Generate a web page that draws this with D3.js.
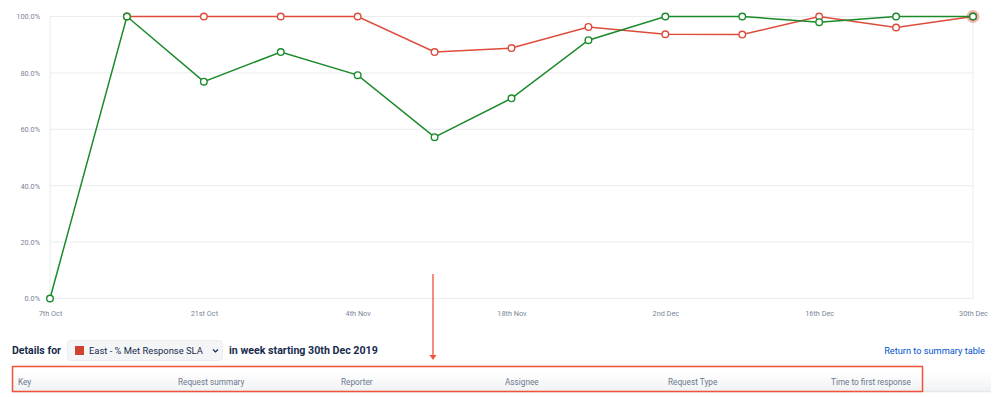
<!DOCTYPE html>
<html><head><meta charset="utf-8">
<script src="https://cdn.jsdelivr.net/npm/d3@7"></script>
<style>
html,body{margin:0;padding:0;background:#fff;}
svg{display:block;font-family:Roboto,"Noto Sans",sans-serif;}
</style></head>
<body>
<svg id="c" width="999" height="397"></svg>
<script>
const weeks = ["7th Oct","14th Oct","21st Oct","28th Oct","4th Nov","11th Nov","18th Nov","25th Nov","2nd Dec","9th Dec","16th Dec","23rd Dec","30th Dec"];
const tickLabels = ["7th Oct","21st Oct","4th Nov","18th Nov","2nd Dec","16th Dec","30th Dec"];
const greenValues = [0,100,76.9,87.4,79.2,57.2,71.0,91.6,100,100,98.0,100,100];
const redValues = [null,100,100,100,100,87.4,88.8,96.3,93.7,93.6,100,96.1,100];
const yTicks = [0,20,40,60,80,100];
const headers = ["Key","Request summary","Reporter","Assignee","Request Type","Time to first response"];
const headerX = [18,178,341,505,668,831];

const svg = d3.select("#c");
const x = d3.scalePoint().domain(weeks).range([50,973]);
const y = d3.scaleLinear().domain([0,100]).range([298.5,16.5]);

// shrink a text so it spans a given width (font fallback safety)
function fit(sel, w){
  sel.each(function(){
    const n=this, l=n.getComputedTextLength();
    const fs=parseFloat(getComputedStyle(n).fontSize);
    if(l>0) d3.select(n).style("font-size",(fs*w/l)+"px");
  });
  return sel;
}

// grid
svg.append("g").selectAll("line").data(yTicks).join("line")
  .attr("x1",50).attr("x2",973).attr("y1",d=>y(d)).attr("y2",d=>y(d))
  .attr("stroke","#ebecf0").attr("stroke-width",1);
svg.append("line").attr("x1",50).attr("x2",50).attr("y1",y(100)).attr("y2",y(0)).attr("stroke","#ebecf0");
svg.append("line").attr("x1",973).attr("x2",973).attr("y1",y(100)).attr("y2",y(0)).attr("stroke","#ebecf0");

// y axis
const yAxis = d3.axisLeft(y).tickValues(yTicks).tickFormat(d=>d.toFixed(1)+"%").tickSize(0).tickPadding(10);
const gy = svg.append("g").attr("transform","translate(50,0)").call(yAxis);
gy.select(".domain").remove();
gy.selectAll("text").attr("fill","#7a869a").style("font-size","7.3px").style("font-family","Roboto,sans-serif");

// x axis
const xAxis = d3.axisBottom(x).tickValues(tickLabels).tickSize(0).tickPadding(8);
const gx = svg.append("g").attr("transform","translate(0,303)").call(xAxis);
gx.select(".domain").remove();
gx.selectAll("text").attr("fill","#7a869a").style("font-size","7.3px").style("font-family","Roboto,sans-serif");

const green = "#1a8a2a", red = "#de4b3b";
const line = d3.line().defined(d=>d.v!=null).x(d=>x(d.w)).y(d=>y(d.v));
const gData = weeks.map((w,i)=>({w,v:greenValues[i]}));
const rData = weeks.map((w,i)=>({w,v:redValues[i]}));

// halo on last point
svg.append("circle").attr("cx",x(weeks[12])).attr("cy",y(100)).attr("r",6.5).attr("fill",red).attr("opacity",0.4);

svg.append("path").datum(rData).attr("d",line).attr("fill","none").attr("stroke",red).attr("stroke-width",1.5);
svg.append("g").selectAll("circle").data(rData.filter(d=>d.v!=null)).join("circle")
  .attr("cx",d=>x(d.w)).attr("cy",d=>y(d.v)).attr("r",3.3).attr("fill","#fff").attr("stroke",red).attr("stroke-width",1.4);

svg.append("path").datum(gData).attr("d",line).attr("fill","none").attr("stroke",green).attr("stroke-width",1.5);
svg.append("g").selectAll("circle").data(gData).join("circle")
  .attr("cx",d=>x(d.w)).attr("cy",d=>y(d.v)).attr("r",3.3).attr("fill","#fff").attr("stroke",green).attr("stroke-width",1.4);

// annotation arrow
const ann = "#f0523a";
svg.append("line").attr("x1",433).attr("x2",433).attr("y1",274).attr("y2",356).attr("stroke",ann).attr("stroke-width",1.3);
svg.append("path").attr("d","M429.5,355 L436.5,355 L433,360 Z").attr("fill",ann);

// details row
fit(svg.append("text").attr("x",12).attr("y",353.5).text("Details for")
  .attr("fill","#172b4d").style("font-size","12px").style("font-weight","700"), 49);
svg.append("rect").attr("x",67.5).attr("y",340.5).attr("width",155).attr("height",20).attr("rx",3)
  .attr("fill","#f4f5f7").attr("stroke","#ebecf0");
svg.append("rect").attr("x",75).attr("y",346).attr("width",9).attr("height",9).attr("fill","#d0412e");
fit(svg.append("text").attr("x",89).attr("y",354).text("East - % Met Response SLA")
  .attr("fill","#172b4d").style("font-size","10px"), 114);
svg.append("path").attr("d","M213,349.5 L215.5,352 L218,349.5").attr("fill","none").attr("stroke","#172b4d").attr("stroke-width",1.2);
fit(svg.append("text").attr("x",229).attr("y",353.5).text("in week starting 30th Dec 2019")
  .attr("fill","#172b4d").style("font-size","12px").style("font-weight","700"), 149);
fit(svg.append("text").attr("x",985).attr("y",353.5).attr("text-anchor","end").text("Return to summary table")
  .attr("fill","#0052cc").style("font-size","10px"), 101);

// table header
const grad = svg.append("defs").append("linearGradient").attr("id","sh").attr("x1",0).attr("x2",0).attr("y1",0).attr("y2",1);
grad.append("stop").attr("offset","0%").attr("stop-color","#fff");
grad.append("stop").attr("offset","100%").attr("stop-color","#f1f2f4");
svg.append("rect").attr("x",12).attr("y",372).attr("width",979).attr("height",19).attr("fill","url(#sh)");
svg.append("line").attr("x1",12).attr("x2",991).attr("y1",391.5).attr("y2",391.5).attr("stroke","#e6e8ec").attr("stroke-width",1.5);
const ht = svg.append("g").selectAll("text").data(headers).join("text")
  .attr("x",(d,i)=>headerX[i]).attr("y",385).text(d=>d)
  .attr("fill","#6b778c").style("font-size","8.5px");
fit(ht.filter(d=>d==="Time to first response"), 80);
const hs = ht.filter(d=>d==="Time to first response").style("font-size");
ht.style("font-size", hs);
svg.append("rect").attr("x",12.5).attr("y",366.5).attr("width",910).attr("height",25).attr("fill","none")
  .attr("stroke",ann).attr("stroke-width",1.5);
</script>
</body></html>
